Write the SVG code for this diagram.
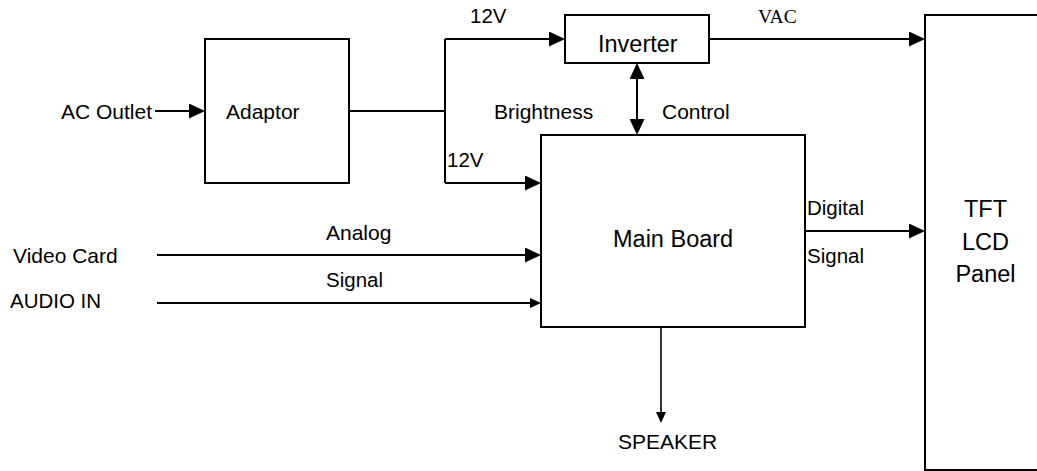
<svg xmlns="http://www.w3.org/2000/svg" width="1037" height="471" viewBox="0 0 1037 471">
<style>
.box{fill:#fff;stroke:#000;stroke-width:2}
.ln{fill:none;stroke:#000;stroke-width:2}
.thin{fill:none;stroke:#000;stroke-width:1.6}
.t{font-family:"Liberation Sans",Arial,sans-serif;font-size:21px;fill:#000}
.s{font-size:20.5px}
.n{font-family:"Liberation Sans",Arial,sans-serif;font-size:23.5px;fill:#000}
.serif{font-family:"Liberation Serif","Times New Roman",serif;font-size:19.5px;fill:#000}
</style>
<defs>
<marker id="big" markerUnits="userSpaceOnUse" markerWidth="16" markerHeight="15" refX="14" refY="7.5" orient="auto-start-reverse" viewBox="0 0 16 15">
<path d="M0,0 L16,7.5 L0,15 z" fill="#000"/>
</marker>
<marker id="small" markerUnits="userSpaceOnUse" markerWidth="11" markerHeight="10" refX="9" refY="5" orient="auto" viewBox="0 0 11 10">
<path d="M0,0 L11,5 L0,10 z" fill="#000"/>
</marker>
</defs>
<rect width="1037" height="471" fill="#fff"/>

<g id="connectors">
<line class="ln" x1="155" y1="111" x2="203" y2="111" marker-end="url(#big)"/>
<polyline class="ln" points="349,111 445,111"/>
<line class="ln" x1="445" y1="39" x2="445" y2="183"/>
<line class="ln" x1="445" y1="39" x2="563" y2="39" marker-end="url(#big)"/>
<line class="ln" x1="445" y1="183" x2="539" y2="183" marker-end="url(#big)"/>
<line class="ln" x1="709" y1="39" x2="923" y2="39" marker-end="url(#big)"/>
<line class="ln" x1="637" y1="65" x2="637" y2="133" marker-start="url(#big)" marker-end="url(#big)"/>
<line class="ln" x1="157" y1="255" x2="539" y2="255" marker-end="url(#big)"/>
<line class="ln" x1="157" y1="303" x2="539" y2="303" marker-end="url(#small)"/>
<line class="ln" x1="805" y1="231" x2="923" y2="231" marker-end="url(#big)"/>
<line class="thin" x1="661" y1="327" x2="661" y2="421" marker-end="url(#small)"/>
<text class="t s" x="470" y="23">12V</text>
<text class="t s" x="447" y="167">12V</text>
<text class="serif" x="758" y="23">VAC</text>
<text class="t" x="494" y="119">Brightness</text>
<text class="t" x="662" y="119">Control</text>
<text class="t" x="326" y="240">Analog</text>
<text class="t s" x="326" y="287">Signal</text>
<text class="t s" x="807" y="215">Digital</text>
<text class="t s" x="807" y="263">Signal</text>
</g>

<g id="ac-outlet"><text class="t" x="61" y="119">AC Outlet</text></g>
<g id="video-card"><text class="t" x="13" y="263">Video Card</text></g>
<g id="audio-in"><text class="t s" x="10" y="308">AUDIO IN</text></g>
<g id="speaker"><text class="t" x="618" y="449">SPEAKER</text></g>

<g id="adaptor">
<rect class="box" x="205" y="39" width="144" height="144"/>
<text class="t" x="226" y="119">Adaptor</text>
</g>
<g id="inverter">
<rect class="box" x="565" y="15" width="144" height="48"/>
<text class="n" x="598" y="52">Inverter</text>
</g>
<g id="main-board">
<rect class="box" x="541" y="135" width="264" height="192"/>
<text class="n" x="613" y="247">Main Board</text>
</g>
<g id="tft-lcd-panel">
<rect class="box" x="925" y="15" width="130" height="455"/>
<text class="n" x="985.5" y="217" text-anchor="middle">TFT</text>
<text class="n" x="985.5" y="250" text-anchor="middle">LCD</text>
<text class="n" x="985.5" y="282" text-anchor="middle">Panel</text>
</g>
</svg>
